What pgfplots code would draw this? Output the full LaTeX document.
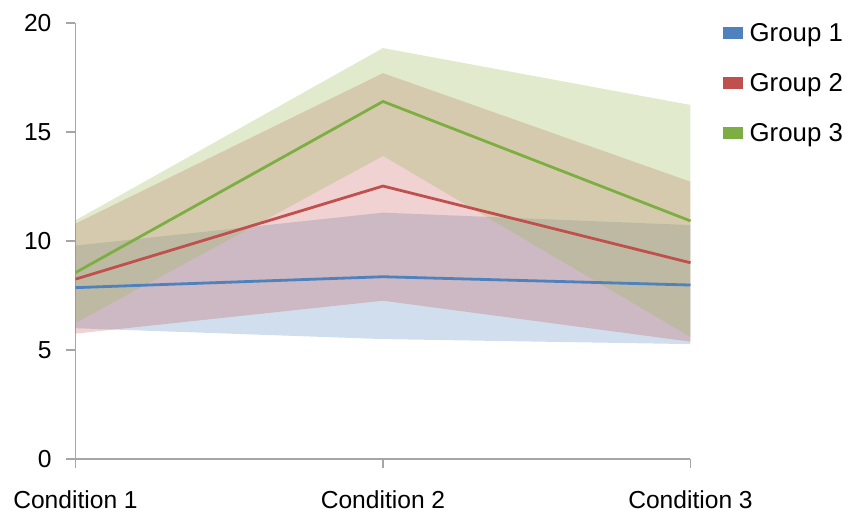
\documentclass[border=0pt]{standalone}
\usepackage{fontspec}
\setmainfont{Liberation Sans}
\usepackage{pgfplots}
\pgfplotsset{compat=1.18}

\definecolor{gblue}{HTML}{4F81BD}
\definecolor{gred}{HTML}{C0504D}
\definecolor{ggreen}{HTML}{9BBB59}
\definecolor{ggreenline}{HTML}{7DAE44}
\definecolor{axisgray}{HTML}{A6A6A6}

\begin{document}
\begin{tikzpicture}
\useasboundingbox (0,0) rectangle (424pt,256pt);
\begin{axis}[
  at={(37.75pt,26.5pt)}, anchor=south west,
  scale only axis, width=307.5pt, height=218pt,
  xmin=0, xmax=2, ymin=0, ymax=20,
  axis x line=bottom, axis y line=left,
  axis line style={-, draw=axisgray, line width=0.8pt},
  xtick={0,1,2},
  xticklabels={Condition 1, Condition 2, Condition 3},
  ytick={0,5,10,15,20},
  tick align=outside, major tick length=4.5pt,
  tick style={axisgray, line width=0.8pt},
  /pgf/number format/assume math mode=true,
  ticklabel style={font=\fontsize{12.3}{14}\selectfont},
  xticklabel style={yshift=-8pt},
  yticklabel style={xshift=-4pt},
  clip=false,
  legend cell align=left,
  legend style={at={(1.052,1.01)}, anchor=north west, draw=none, fill=none,
    font=\fontsize{12.9}{14.5}\selectfont, row sep=10.5pt, inner sep=0pt,
    /tikz/every odd column/.append style={column sep=1.5pt}},
]
% legend swatches
\addlegendimage{legend image code/.code={\fill[gblue] (0pt,-2.4pt) rectangle (9.5pt,3.2pt);}}
\addlegendimage{legend image code/.code={\fill[gred] (0pt,-2.4pt) rectangle (9.5pt,3.2pt);}}
\addlegendimage{legend image code/.code={\fill[ggreenline] (0pt,-2.4pt) rectangle (9.5pt,3.2pt);}}

% spread bands (upper bound left to right, then lower bound right to left)
\addplot[fill=gblue, fill opacity=0.26, draw=none, forget plot]
  coordinates {(0,9.79) (1,11.30) (2,10.73) (2,5.27) (1,5.50) (0,6.00)} -- cycle;
\addplot[fill=gred, fill opacity=0.26, draw=none, forget plot]
  coordinates {(0,10.80) (1,17.70) (2,12.72) (2,5.38) (1,7.26) (0,5.75)} -- cycle;
\addplot[fill=ggreen, fill opacity=0.30, draw=none, forget plot]
  coordinates {(0,10.95) (1,18.85) (2,16.24) (2,5.60) (1,13.90) (0,6.24)} -- cycle;

% group means
\addplot[gblue, line width=1.4pt, forget plot] coordinates {(0,7.86) (1,8.36) (2,7.98)};
\addplot[gred, line width=1.4pt, forget plot] coordinates {(0,8.25) (1,12.52) (2,9.00)};
\addplot[ggreenline, line width=1.4pt, forget plot] coordinates {(0,8.55) (1,16.40) (2,10.92)};

\legend{Group 1, Group 2, Group 3}
\end{axis}
\end{tikzpicture}
\end{document}
